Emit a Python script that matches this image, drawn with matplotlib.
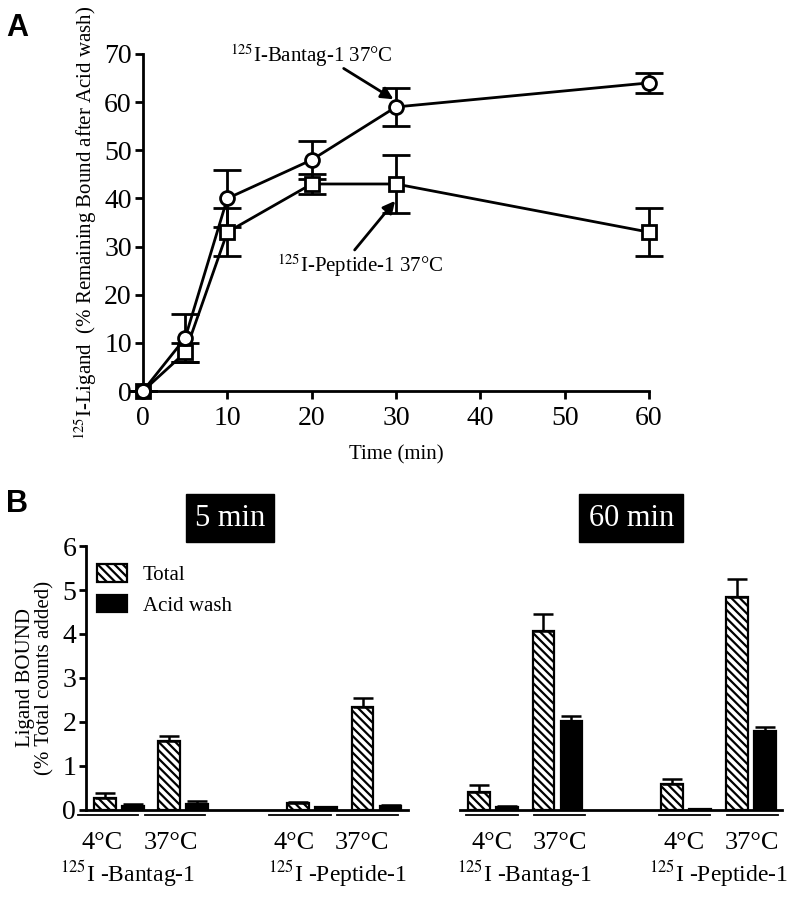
import matplotlib
matplotlib.use("Agg")
import matplotlib.pyplot as plt
import matplotlib.transforms as mtransforms
from matplotlib.patches import Patch
import numpy as np

plt.rcParams['font.family'] = ['Liberation Serif', 'DejaVu Serif']
plt.rcParams['mathtext.fontset'] = 'stix'
plt.rcParams['hatch.linewidth'] = 1.6

# ---------------- Data: panel A ----------------
time_min = [0, 5, 10, 20, 30, 60]
bantag_pct = [0, 11, 40, 48, 59, 64]
bantag_err = [0, 5, 6, 4, 4, 2]
peptide_pct = [0, 8, 33, 43, 43, 33]
peptide_err = [0, 2, 5, 2, 6, 5]

# ---------------- Data: panel B ----------------
temps = ['4°C', '37°C', '4°C', '37°C']
ligands = ['$^{125}$I -Bantag-1', '$^{125}$I -Peptide-1']
total_5 = [0.28, 1.57, 0.15, 2.35]
total_5_err = [0.11, 0.11, 0.04, 0.2]
acid_5 = [0.10, 0.13, 0.06, 0.10]
acid_5_err = [0.03, 0.08, 0.01, 0.01]
total_60 = [0.41, 4.07, 0.58, 4.83]
total_60_err = [0.15, 0.38, 0.12, 0.43]
acid_60 = [0.07, 2.02, 0.02, 1.79]
acid_60_err = [0.03, 0.12, 0.0, 0.10]

fig = plt.figure(figsize=(7.93, 8.97), dpi=100)

# ---------------- Panel A ----------------
axA = fig.add_axes([0.1803, 0.5641, 0.6381, 0.3757])
for y, e, m in [(peptide_pct, peptide_err, 's'), (bantag_pct, bantag_err, 'o')]:
    axA.errorbar(time_min, y, yerr=e, fmt='-', color='black', lw=2.0,
                 elinewidth=2.0, capsize=10, capthick=2.0, marker=m,
                 markersize=10, mfc='white', mec='black', mew=2.0,
                 clip_on=False, zorder=3)
axA.set_xlim(0, 60)
axA.set_ylim(0, 70)
axA.set_xticks(range(0, 61, 10))
axA.set_yticks(range(0, 71, 10))
for s in ['top', 'right']:
    axA.spines[s].set_visible(False)
for s in ['left', 'bottom']:
    axA.spines[s].set_linewidth(2.0)
axA.tick_params(width=2.0, length=6, labelsize=20, direction='out', pad=2)
axA.tick_params(axis='x', pad=5)
axA.set_xlabel('Time (min)', fontsize=15, labelpad=10)
axA.set_ylabel('$^{125}$I-Ligand  (% Remaining Bound after Acid wash)', fontsize=15, labelpad=4)

arrow_kw = dict(arrowstyle='-|>', color='black', lw=2, mutation_scale=18,
                shrinkA=0, shrinkB=0)
axA.text(20.0, 69.6, '$^{125}$I-Bantag-1 37°C', fontsize=15, ha='center', va='center')
axA.annotate('', xy=(29.7, 60.6), xytext=(23.8, 67.0), arrowprops=arrow_kw)
axA.text(25.7, 26.0, '$^{125}$I-Peptide-1 37°C', fontsize=15, ha='center', va='center')
axA.annotate('', xy=(29.9, 39.5), xytext=(25.1, 29.3), arrowprops=arrow_kw)

fig.text(0.008, 0.985, 'A', fontsize=22, fontweight='bold', family='Liberation Sans',
         ha='left', va='top')

# ---------------- Panel B ----------------
pair_pos = np.array([0.0, 2.3, 6.9, 9.2])
bw = 0.78

def draw_panel(ax, total, terr, acid, aerr, line_ext, temp_x, lig_x, show_y):
    ax.bar(pair_pos, total, width=bw, color='white', edgecolor='black',
           linewidth=1.6, hatch='\\\\\\\\', zorder=2)
    ax.errorbar(pair_pos, total, yerr=[np.zeros(4), terr], fmt='none',
                ecolor='black', elinewidth=1.8, capsize=7, capthick=1.8, zorder=3)
    ax.bar(pair_pos + 1, acid, width=bw, color='black', edgecolor='black',
           linewidth=1.6, zorder=2)
    ax.errorbar(pair_pos + 1, acid, yerr=[np.zeros(4), aerr], fmt='none',
                ecolor='black', elinewidth=1.8, capsize=7, capthick=1.8, zorder=3)
    ax.set_xlim(-0.68, 10.82)
    ax.set_ylim(0, 6)
    ax.set_xticks([])
    for s in ['top', 'right']:
        ax.spines[s].set_visible(False)
    ax.spines['bottom'].set_linewidth(2.0)
    if show_y:
        ax.spines['left'].set_linewidth(2.0)
        ax.set_yticks(range(0, 7))
        ax.tick_params(axis='y', width=2.0, length=5, labelsize=20, pad=2)
        ax.set_ylabel('Ligand BOUND\n(% Total counts added)', fontsize=15,
                      linespacing=1.0, labelpad=6)
    else:
        ax.spines['left'].set_visible(False)
        ax.set_yticks([])
    trans = mtransforms.blended_transform_factory(ax.transData, ax.transAxes)
    for (x0, x1) in line_ext:
        ax.plot([x0, x1], [-0.02, -0.02], color='black', lw=1.3,
                transform=trans, clip_on=False)
    for t, x in zip(temps, temp_x):
        ax.text(x, -0.125, t, fontsize=19, ha='center', va='center', transform=trans)
    for l, x in zip(ligands, lig_x):
        ax.text(x, -0.24, l, fontsize=17, ha='center', va='center', transform=trans)

axB1 = fig.add_axes([0.1084, 0.0970, 0.4060, 0.2943])
draw_panel(axB1, total_5, total_5_err, acid_5, acid_5_err,
           [(-0.96, 1.18), (1.43, 3.57), (5.86, 8.07), (8.29, 10.46)],
           [-0.1, 2.36, 6.75, 9.18], [0.79, 8.29], True)
axB2 = fig.add_axes([0.5801, 0.0970, 0.4060, 0.2943])
draw_panel(axB2, total_60, total_60_err, acid_60, acid_60_err,
           [(-0.46, 1.39), (1.96, 3.79), (6.43, 8.25), (8.86, 10.68)],
           [0.46, 2.88, 7.32, 9.75], [1.64, 8.55], False)

handles = [Patch(facecolor='white', edgecolor='black', hatch='\\\\\\\\', linewidth=1.6),
           Patch(facecolor='black', edgecolor='black', linewidth=1.6)]
axB1.legend(handles, ['Total', 'Acid wash'], loc='upper left',
            bbox_to_anchor=(0.034, 0.93), frameon=False, fontsize=15,
            handlelength=1.45, handleheight=0.9, handletextpad=0.75,
            labelspacing=0.45, borderpad=0, borderaxespad=0)

fig.text(0.290, 0.4225, '5 min', fontsize=22, color='white', ha='center', va='center',
         bbox=dict(facecolor='black', edgecolor='black', boxstyle='square,pad=0.3'))
fig.text(0.796, 0.4225, '60 min', fontsize=22, color='white', ha='center', va='center',
         bbox=dict(facecolor='black', edgecolor='black', boxstyle='square,pad=0.3'))
fig.text(0.008, 0.455, 'B', fontsize=22, fontweight='bold', family='Liberation Sans',
         ha='left', va='top')

fig.savefig('out.png', dpi=100)
